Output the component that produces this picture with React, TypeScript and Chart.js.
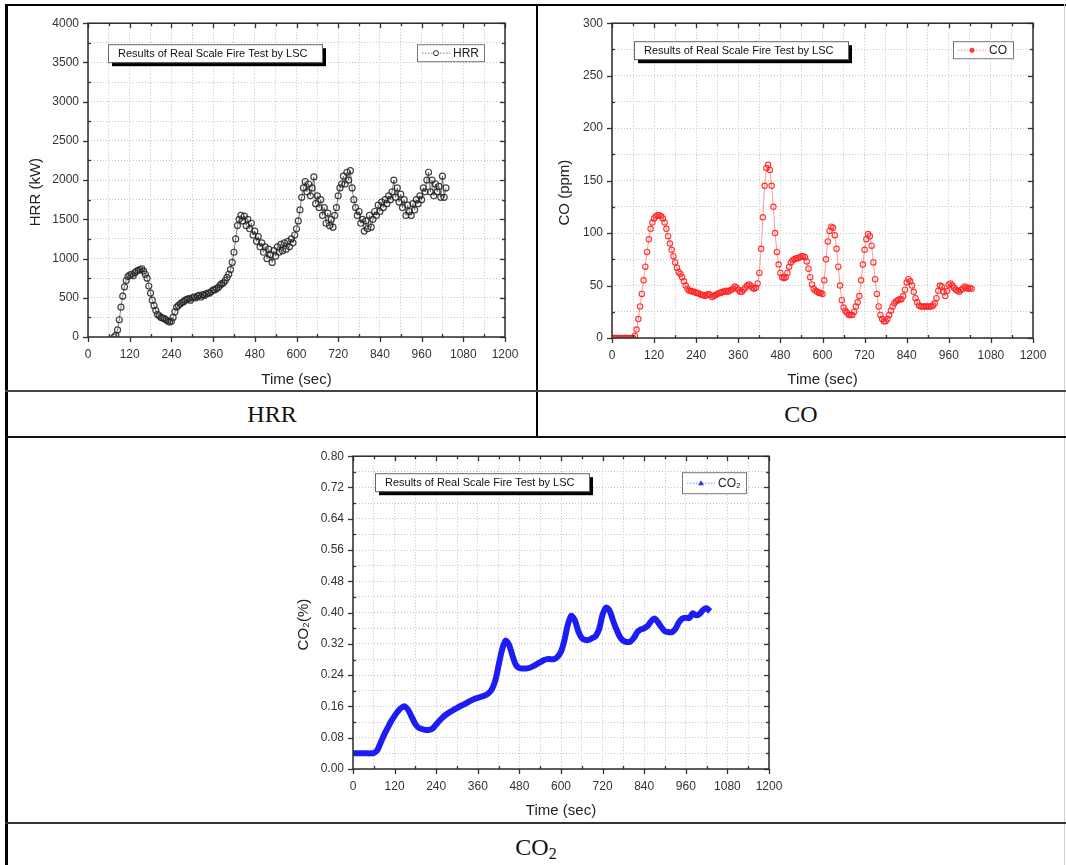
import React, { useEffect, useRef } from 'react';
import { Chart, registerables } from 'chart.js';

Chart.register(...registerables);
Chart.defaults.font.family = "'Liberation Sans', Arial, sans-serif";

// ---------------- DATA ----------------
const HRR_START = 75; // sec
const HRR_STEP = 5; // sec
const HRR_VALUES = [
  0, 20, 90, 220, 380, 520, 640, 720, 770, 790,
  800, 780, 820, 840, 850, 860, 870, 840, 800, 750,
  650, 560, 470, 400, 340, 290, 270, 250, 240, 235,
  220, 200, 190, 200, 250, 320, 380, 400, 420, 440,
  450, 470, 480, 490, 470, 500, 510, 500, 520, 530,
  510, 540, 530, 550, 560, 560, 580, 600, 600, 620,
  630, 660, 680, 690, 720, 760, 800, 860, 950, 1080,
  1250, 1420, 1500, 1550, 1480, 1540, 1420, 1500, 1380, 1450,
  1300, 1350, 1220, 1280, 1150, 1200, 1080, 1150, 1000, 1120,
  1050, 950, 1100, 1030, 1150, 1080, 1180, 1100, 1200, 1120,
  1220, 1150, 1250, 1200, 1300, 1380, 1480, 1620, 1780, 1900,
  1980, 1850, 1950, 1800, 1900, 2040, 1700, 1800, 1650, 1750,
  1550, 1650, 1450, 1580, 1420, 1500, 1400, 1550, 1650, 1800,
  1900, 1950, 2050, 1950, 2100, 2000, 2120, 1900, 1750, 1650,
  1550, 1600, 1450, 1500, 1350, 1480, 1380, 1550, 1400, 1500,
  1600, 1550, 1680, 1600, 1720, 1650, 1750, 1700, 1800, 1750,
  1850, 2000, 1780, 1900, 1720, 1820, 1650, 1750, 1550, 1680,
  1600, 1550, 1700, 1620, 1750, 1700, 1800, 1750, 1900, 1850,
  2000, 2100, 1850, 2000, 1800, 1950, 1850, 1920, 1780, 2050,
  1780, 1900,
];

const CO_START = 0; // sec
const CO_STEP = 5; // sec
const CO_VALUES = [
  0, 0, 0, 0, 0, 0, 0, 0, 0, 0, 0, 0, 0,
  2, 8, 18, 30, 42, 55, 68, 82, 94, 104,
  110, 114, 116, 117, 117, 116, 114, 110, 104, 97,
  90, 84, 78, 72, 67, 63, 61, 58, 54, 50,
  47, 45, 45, 44, 44, 43, 43, 42, 41, 41,
  40, 41, 42, 41, 39, 40, 41, 42, 43, 43,
  44, 44, 45, 44, 45, 46, 47, 49, 48, 46,
  44, 44, 46, 48, 50, 51, 50, 48, 47, 48,
  52, 62, 85, 115, 145, 162, 165, 160, 145, 125,
  100, 82, 70, 62, 58, 57, 58, 62, 68, 72,
  74, 75, 76, 76, 77, 78, 78, 77, 73, 66,
  58, 51, 47, 45, 44, 43, 43, 42, 55, 75,
  92, 102, 106, 105, 98, 85, 68, 50, 36, 29,
  26, 24, 22, 22, 22, 25, 30, 34, 40, 55,
  70, 84, 94, 99, 97, 88, 72, 56, 42, 30,
  22, 18, 16, 16, 18, 22, 26, 30, 33, 35,
  36, 37, 37, 40, 46, 53, 56, 54, 50, 44,
  38, 34, 31, 30, 30, 30, 30, 30, 30, 30,
  31, 33, 38, 45, 50, 49, 44, 40, 45, 51,
  52, 50, 48, 46, 45, 44, 46, 47, 49, 48,
  47, 48, 47,
];

const CO2_START = 0; // sec
const CO2_STEP = 10; // sec
const CO2_VALUES = [
  0.040, 0.040, 0.040, 0.040, 0.040, 0.040, 0.041, 0.048, 0.068, 0.088,
  0.105, 0.122, 0.136, 0.148, 0.157, 0.160, 0.150, 0.132, 0.115, 0.105,
  0.102, 0.100, 0.100, 0.104, 0.114, 0.124, 0.133, 0.140, 0.146, 0.151,
  0.156, 0.161, 0.165, 0.170, 0.175, 0.179, 0.182, 0.185, 0.188, 0.193,
  0.203, 0.225, 0.265, 0.305, 0.328, 0.318, 0.290, 0.266, 0.258, 0.257,
  0.257, 0.259, 0.263, 0.268, 0.273, 0.278, 0.281, 0.281, 0.281, 0.287,
  0.300, 0.330, 0.370, 0.392, 0.380, 0.352, 0.335, 0.330, 0.330, 0.335,
  0.340, 0.358, 0.395, 0.413, 0.405, 0.380, 0.357, 0.338, 0.328, 0.325,
  0.326, 0.335, 0.350, 0.357, 0.360, 0.366, 0.378, 0.385, 0.375, 0.362,
  0.352, 0.350, 0.350, 0.358, 0.375, 0.385, 0.387, 0.386, 0.398, 0.393,
  0.397, 0.407, 0.411, 0.403,
];

const X_MAX = 1200;
const X_STEP = 60; // minor step, labels every 120
const X_TITLE = 'Time (sec)';
const BOX_TITLE = 'Results of Real Scale Fire Test by LSC';

const toPoints = (start: number, step: number, vals: number[]) =>
  vals.map((v, i) => ({ x: start + i * step, y: v }));

type Cfg = {
  left: number; top: number; w: number; h: number;
  yWidth: number; padTop: number; padRight: number; xHeight: number;
  yMax: number; yStep: number; yFmt: (v: number) => string;
  yTitle: string; yTitleX: number; yTitleShift: number;
  label: string; marker: 'circle' | 'dot' | 'triangle'; color: string;
  titleBox: [number, number]; legendBox: [number, number, number, number];
  dataset: any;
};

function makePlugin(cfg: Cfg) {
  return {
    id: 'frameDeco',
    afterDraw(chart: any) {
      const { ctx, chartArea: a, scales } = chart;
      const isMajorX = (v: number) => Math.round(v / X_STEP) % 2 === 0;
      const isMajorY = (v: number) => Math.round(v / cfg.yStep) % 2 === 0;
      ctx.save();
      const line = (x1: number, y1: number, x2: number, y2: number) => {
        ctx.beginPath(); ctx.moveTo(x1, y1); ctx.lineTo(x2, y2); ctx.stroke();
      };
      // ticks
      ctx.strokeStyle = '#333';
      ctx.lineWidth = 1.3;
      for (const t of scales.x.ticks) {
        const px = Math.round(scales.x.getPixelForValue(t.value)) + 0.5;
        if (isMajorX(t.value)) {
          line(px, a.bottom, px, a.bottom + 5);
          line(px, a.top, px, a.top + 5);
        } else {
          line(px, a.bottom - 3, px, a.bottom);
          line(px, a.top, px, a.top + 3);
        }
      }
      for (const t of scales.y.ticks) {
        const py = Math.round(scales.y.getPixelForValue(t.value)) + 0.5;
        if (isMajorY(t.value)) {
          line(a.left - 5, py, a.left, py);
          line(a.right - 5, py, a.right, py);
        } else {
          line(a.left, py, a.left + 3, py);
          line(a.right - 3, py, a.right, py);
        }
      }
      // frame
      ctx.lineWidth = 1.5;
      ctx.strokeStyle = '#2a2a2a';
      ctx.strokeRect(a.left, a.top, a.right - a.left, a.bottom - a.top);

      // y title
      ctx.fillStyle = '#222';
      ctx.font = "15px 'Liberation Sans', Arial, sans-serif";
      ctx.textAlign = 'center';
      ctx.textBaseline = 'middle';
      ctx.save();
      ctx.translate(cfg.yTitleX, (a.top + a.bottom) / 2 + cfg.yTitleShift);
      ctx.rotate(-Math.PI / 2);
      ctx.fillText(cfg.yTitle, 0, 0);
      ctx.restore();

      // title box with shadow
      const bx = a.left + cfg.titleBox[0];
      const by = a.top + cfg.titleBox[1];
      const bw = 214, bh = 18;
      ctx.fillStyle = '#000';
      ctx.fillRect(bx + 4, by + 4, bw, bh);
      ctx.fillStyle = '#fff';
      ctx.fillRect(bx, by, bw, bh);
      ctx.strokeStyle = '#666';
      ctx.lineWidth = 1;
      ctx.strokeRect(bx + 0.5, by + 0.5, bw, bh);
      ctx.fillStyle = '#111';
      ctx.font = "11px 'Liberation Sans', Arial, sans-serif";
      ctx.textAlign = 'left';
      ctx.fillText(BOX_TITLE, bx + 10, by + bh / 2 + 1);

      // legend box
      const [rOff, tOff, lw, lh] = cfg.legendBox;
      const lx = a.right - rOff - lw;
      const ly = a.top + tOff;
      ctx.fillStyle = '#fff';
      ctx.fillRect(lx, ly, lw, lh);
      ctx.strokeStyle = '#777';
      ctx.strokeRect(lx + 0.5, ly + 0.5, lw, lh);
      const my = ly + lh / 2 + 0.5;
      ctx.strokeStyle = cfg.color;
      ctx.globalAlpha = 0.6;
      ctx.setLineDash([1.5, 1.5]);
      line(lx + 5, my, lx + 33, my);
      ctx.setLineDash([]);
      ctx.globalAlpha = 1;
      const mx = lx + 19;
      ctx.lineWidth = 1;
      if (cfg.marker === 'circle') {
        ctx.fillStyle = '#fff';
        ctx.beginPath(); ctx.arc(mx, my, 2.5, 0, Math.PI * 2); ctx.fill(); ctx.stroke();
      } else if (cfg.marker === 'dot') {
        ctx.fillStyle = cfg.color;
        ctx.beginPath(); ctx.arc(mx, my, 2.5, 0, Math.PI * 2); ctx.fill();
      } else {
        ctx.fillStyle = cfg.color;
        ctx.beginPath(); ctx.moveTo(mx, my - 3); ctx.lineTo(mx + 3, my + 2); ctx.lineTo(mx - 3, my + 2); ctx.closePath(); ctx.fill();
      }
      ctx.fillStyle = '#222';
      ctx.font = "12px 'Liberation Sans', Arial, sans-serif";
      ctx.textAlign = 'left';
      ctx.fillText(cfg.label, lx + 36, my);
      ctx.restore();
    },
  };
}

function FireChart({ cfg }: { cfg: Cfg }) {
  const ref = useRef<HTMLCanvasElement>(null);
  useEffect(() => {
    if (!ref.current) return;
    const isMajorX = (v: number) => Math.round(v / X_STEP) % 2 === 0;
    const isMajorY = (v: number) => Math.round(v / cfg.yStep) % 2 === 0;
    const chart = new Chart(ref.current, {
      type: 'scatter',
      data: { datasets: [cfg.dataset] },
      options: {
        responsive: false,
        animation: false,
        layout: { padding: { top: cfg.padTop, right: cfg.padRight, left: 0, bottom: 0 } },
        plugins: { legend: { display: false }, tooltip: { enabled: false } },
        scales: {
          x: {
            type: 'linear',
            min: 0,
            max: X_MAX,
            afterFit: (s: any) => { s.height = cfg.xHeight; },
            ticks: {
              stepSize: X_STEP,
              autoSkip: false,
              maxRotation: 0,
              padding: 10,
              color: '#333',
              font: { size: 12 },
              callback: (v: any) => (isMajorX(Number(v)) ? String(v) : ''),
            },
            grid: { color: '#c4c4c4', lineWidth: 1, drawTicks: false },
            border: { display: false, dash: [1, 2] },
            title: {
              display: true,
              text: X_TITLE,
              color: '#222',
              font: { size: 15 },
              padding: { top: 0, bottom: 0 },
            },
          },
          y: {
            type: 'linear',
            min: 0,
            max: cfg.yMax,
            afterFit: (s: any) => { s.width = cfg.yWidth; },
            ticks: {
              stepSize: cfg.yStep,
              autoSkip: false,
              padding: 9,
              color: '#333',
              font: { size: 12 },
              callback: (v: any) => (isMajorY(Number(v)) ? cfg.yFmt(Number(v)) : ''),
            },
            grid: { color: '#c4c4c4', lineWidth: 1, drawTicks: false },
            border: { display: false, dash: [1, 2] },
          },
        },
      },
      plugins: [makePlugin(cfg)],
    } as any);
    return () => chart.destroy();
  }, []);
  return (
    <canvas
      ref={ref}
      width={cfg.w}
      height={cfg.h}
      style={{ position: 'absolute', left: cfg.left, top: cfg.top, width: cfg.w, height: cfg.h }}
    />
  );
}

const hrrCfg: Cfg = {
  left: 8, top: 7, w: 526, h: 382,
  yWidth: 80, padTop: 10, padRight: 29, xHeight: 52,
  yMax: 4000, yStep: 250, yFmt: (v) => String(Math.round(v)),
  yTitle: 'HRR (kW)', yTitleX: 28, yTitleShift: 12,
  label: 'HRR', marker: 'circle', color: '#333',
  titleBox: [20, 21], legendBox: [21, 21, 67, 17],
  dataset: {
    label: 'HRR',
    data: toPoints(HRR_START, HRR_STEP, HRR_VALUES),
    showLine: true,
    borderColor: 'rgba(70,70,70,0.7)',
    borderWidth: 1,
    pointStyle: 'circle',
    pointRadius: 3,
    pointBorderWidth: 1.2,
    pointBorderColor: 'rgba(35,35,35,0.85)',
    pointBackgroundColor: 'rgba(255,255,255,0)',
  },
};

const coCfg: Cfg = {
  left: 539, top: 7, w: 524, h: 382,
  yWidth: 73, padTop: 10, padRight: 30, xHeight: 51,
  yMax: 300, yStep: 25, yFmt: (v) => String(Math.round(v)),
  yTitle: 'CO (ppm)', yTitleX: 26, yTitleShift: 12,
  label: 'CO', marker: 'dot', color: '#ff3b3b',
  titleBox: [22, 18], legendBox: [20, 18, 60, 17],
  dataset: {
    label: 'CO',
    data: toPoints(CO_START, CO_STEP, CO_VALUES),
    showLine: true,
    borderColor: 'rgba(255,40,40,0.6)',
    borderWidth: 0.8,
    pointStyle: 'circle',
    pointRadius: 2.7,
    pointBorderWidth: 1.1,
    pointBorderColor: 'rgba(255,30,30,0.9)',
    pointBackgroundColor: 'rgba(255,255,255,0)',
  },
};

const co2Cfg: Cfg = {
  left: 280, top: 440, w: 520, h: 380,
  yWidth: 73, padTop: 9, padRight: 31, xHeight: 51,
  yMax: 0.8, yStep: 0.04, yFmt: (v) => v.toFixed(2),
  yTitle: 'CO\u2082(%)', yTitleX: 24, yTitleShift: 12,
  label: 'CO\u2082', marker: 'triangle', color: '#3030ff',
  titleBox: [22, 17], legendBox: [23, 16, 64, 21],
  dataset: {
    label: 'CO2',
    data: toPoints(CO2_START, CO2_STEP, CO2_VALUES),
    showLine: true,
    borderColor: 'rgb(28,28,245)',
    borderWidth: 6,
    tension: 0.3,
    pointRadius: 0,
  },
};

const line = (s: React.CSSProperties): React.CSSProperties => ({ position: 'absolute', ...s });

export default function App() {
  return (
    <div style={{ position: 'absolute', left: 0, top: 0, width: 1066, height: 865, background: '#fff', overflow: 'hidden' }}>
      <FireChart cfg={hrrCfg} />
      <FireChart cfg={coCfg} />
      <FireChart cfg={co2Cfg} />
      {/* table lines */}
      <div style={line({ left: 5, top: 4, width: 1061, height: 2, background: '#000' })} />
      <div style={line({ left: 5, top: 4, width: 3, height: 861, background: '#000' })} />
      <div style={line({ left: 536, top: 4, width: 2, height: 434, background: '#000' })} />
      <div style={line({ left: 1064, top: 4, width: 1, height: 861, background: '#d0d0d0' })} />
      <div style={line({ left: 5, top: 390, width: 1061, height: 2, background: '#444' })} />
      <div style={line({ left: 5, top: 436, width: 1061, height: 2, background: '#111' })} />
      <div style={line({ left: 5, top: 822, width: 1061, height: 2, background: '#333' })} />
      {/* captions */}
      <div style={line({ left: 8, top: 392, width: 528, height: 44, display: 'flex', alignItems: 'center', justifyContent: 'center', fontFamily: "'Liberation Serif', 'Times New Roman', serif", fontSize: 24, color: '#111' })}>HRR</div>
      <div style={line({ left: 538, top: 392, width: 526, height: 44, display: 'flex', alignItems: 'center', justifyContent: 'center', fontFamily: "'Liberation Serif', 'Times New Roman', serif", fontSize: 24, color: '#111' })}>CO</div>
      <div style={line({ left: 8, top: 827, width: 1056, height: 41, display: 'flex', alignItems: 'center', justifyContent: 'center', fontFamily: "'Liberation Serif', 'Times New Roman', serif", fontSize: 24, color: '#111' })}>
        <span>CO<sub style={{ fontSize: 16, verticalAlign: '-4px', lineHeight: 0 }}>2</sub></span>
      </div>
    </div>
  );
}
